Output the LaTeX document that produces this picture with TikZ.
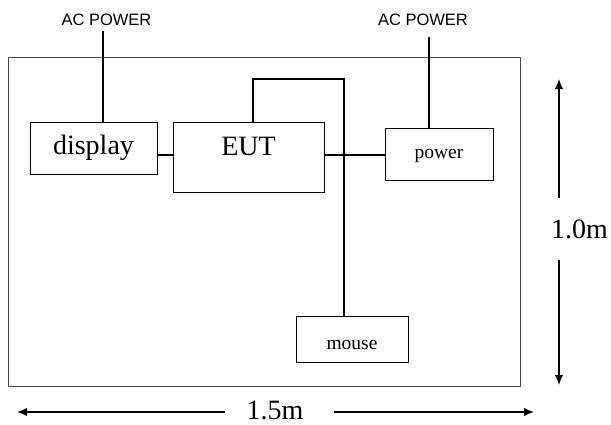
\documentclass[tikz,border=0pt]{standalone}
\usepackage{fontspec}
\setmainfont{Liberation Serif}
\newfontfamily\acfont{Liberation Sans}
\usepackage{tikz}
\usetikzlibrary{arrows.meta}

\tikzset{
  unitbox/.style={draw, line width=1pt, inner sep=0pt},
  cable/.style={line width=1.5pt},
  dimarrow/.style={line width=1.5pt, -{Latex[length=10pt, width=8.5pt]}},
  bigtxt/.style={font=\fontsize{28}{32}\selectfont},
  smalltxt/.style={font=\fontsize{19.5}{23}\selectfont},
  actxt/.style={font=\acfont\fontsize{16.5}{19}\selectfont, inner sep=0pt}
}

\begin{document}
\begin{tikzpicture}[x=1pt, y=-1pt]
  \useasboundingbox (0,0) rectangle (611,424);
  % mesa
  \node[draw, black!70, line width=1pt, minimum width=512pt, minimum height=329pt] (table) at (264,221.5) {};
  % equipamentos
  \node[unitbox, bigtxt, minimum width=127pt, minimum height=52pt] (display) at (93.5,148) {display};
  \node[unitbox, bigtxt, text height=18pt, text depth=22pt, minimum width=151pt, minimum height=70pt] (eut) at (248.5,157) {EUT};
  \node[unitbox, smalltxt, text height=12pt, text depth=4pt, minimum width=108pt, minimum height=52pt] (power) at (439,154) {power};
  \node[unitbox, smalltxt, text height=20pt, text depth=0pt, minimum width=112pt, minimum height=46pt] (mouse) at (352,339) {mouse};
  % alimenta\c{c}\~ao
  \node[actxt, anchor=base] (acleft) at (106.5,25) {AC POWER};
  \node[actxt, anchor=base] (acright) at (423,25) {AC POWER};
  \coordinate (plugleft) at (103,31);
  \coordinate (plugright) at (429,37);
  \draw[cable] (plugleft) -- (plugleft |- display.north);
  \draw[cable] (plugright) -- (plugright |- power.north);
  % cabos
  \draw[cable] ([yshift=-7]display.east) -- ([yshift=-7]display.east -| eut.west);
  \draw[cable] ([yshift=2]eut.east) -- ([yshift=2]eut.east -| power.west);
  \coordinate (bend) at (300,79);
  \draw[cable] ([xshift=4.5]eut.north) |- (bend) -| ([xshift=-8]mouse.north);
  % cotas
  \node[bigtxt, anchor=base, inner sep=0pt] (height) at (579.5,238) {1.0m};
  \node[bigtxt, anchor=base, inner sep=0pt] (width) at (275,419) {1.5m};
  \coordinate (vlow) at (559,198);
  \coordinate (vtop) at (559,79);
  \coordinate (vmid) at (559,260);
  \coordinate (vbot) at (559,385);
  \draw[dimarrow] (vlow) -- (vtop);
  \draw[dimarrow] (vmid) -- (vbot);
  \coordinate (hleft) at (225,412);
  \coordinate (hend) at (17,412);
  \coordinate (hright) at (334,412);
  \coordinate (hfar) at (534,412);
  \draw[dimarrow] (hleft) -- (hend);
  \draw[dimarrow] (hright) -- (hfar);
\end{tikzpicture}
\end{document}
